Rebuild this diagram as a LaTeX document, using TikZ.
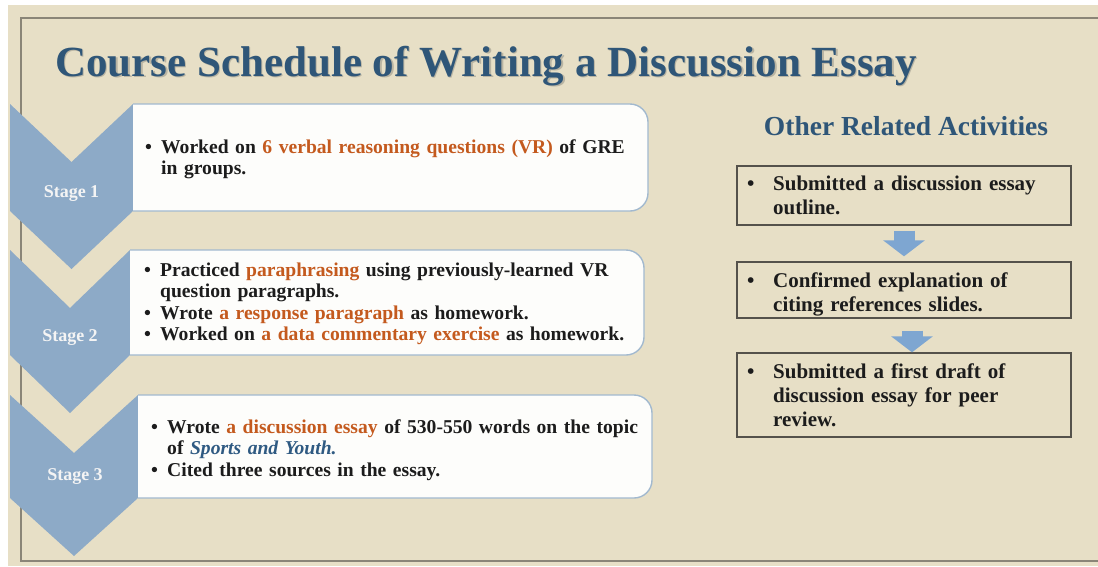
\documentclass[tikz,border=0pt]{standalone}
\usepackage{fontspec}
\setmainfont{Liberation Serif}
\usetikzlibrary{arrows.meta,calc}
\pgfdeclarelayer{bg}\pgfdeclarelayer{chev}\pgfdeclarelayer{boxes}
\pgfsetlayers{bg,chev,boxes,main}
\definecolor{beige}{HTML}{E7DFC6}
\definecolor{framec}{HTML}{8A8577}
\definecolor{chevc}{HTML}{8DAAC7}
\definecolor{boxborder}{HTML}{A2B9CF}
\definecolor{boxfill}{HTML}{FDFDFB}
\definecolor{orng}{HTML}{C45A1E}
\definecolor{titleblue}{HTML}{2F5678}
\definecolor{sportblue}{HTML}{2F5A82}
\definecolor{darktext}{HTML}{1C1C1C}
\definecolor{rborder}{HTML}{55524B}
\definecolor{arrowc}{HTML}{7EA6D1}
\definecolor{stagetext}{HTML}{F4F4F4}
\definecolor{shadowc}{HTML}{8C8A80}
\newcommand\orn[1]{\textcolor{orng}{#1}}
\newcommand\lbul{\makebox[16pt][l]{•}}
\newcommand\lind{\hspace*{16pt}}
\newcommand\rbul{\makebox[26pt][l]{•}}
\newcommand\rind{\hspace*{26pt}}
\newcommand\mychev[5]{%
  \fill[chevc] (#1,#3) -- ({(#1+#2)/2},{#3+#5}) -- (#2,#3) -- (#2,#4)
    -- ({(#1+#2)/2},{#4+#5}) -- (#1,#4) -- cycle;}
\begin{document}
\begin{tikzpicture}[x=1pt,y=-1pt,
  titletxt/.style={anchor=base west,inner sep=0pt,text=titleblue,
    font=\fontsize{43}{50}\selectfont\bfseries},
  subtitle/.style={anchor=base,inner sep=0pt,text=titleblue,
    font=\fontsize{27.5}{32}\selectfont\bfseries},
  lshape/.style={inner sep=0pt,outer sep=0pt},
  ltext/.style={anchor=base west,inner sep=0pt,text width=540pt,align=left,
    text=darktext,font=\fontsize{19.6}{21.5}\selectfont\bfseries},
  lbox/.style={fill=boxfill,draw=boxborder,line width=1.4pt,rounded corners=18pt},
  rbox/.style={draw=rborder,line width=1.4pt,inner sep=0pt,minimum width=334pt},
  rtext/.style={anchor=base west,inner sep=0pt,text width=330pt,align=left,
    text=darktext,font=\fontsize{21}{24.2}\selectfont\bfseries},
  stagetxt/.style={text=stagetext,inner sep=0pt,
    font=\fontsize{18}{20}\selectfont\bfseries},
  blockarr/.style={draw=arrowc,line width=21pt,
    -{Triangle[width=41pt,length=16pt]}},
]
\useasboundingbox (0,0) rectangle (1098,566);
\begin{pgfonlayer}{bg}
  \fill[white] (0,0) rectangle (1098,566);
  \fill[beige] (8,5) rectangle (1098,566);
  \draw[framec,line width=2.2pt] (1098,18) -- (21,18) -- (21,561) -- (1098,561);
\end{pgfonlayer}
\begin{pgfonlayer}{chev}
  \mychev{10}{133}{104}{211}{58}
  \mychev{10}{130}{250}{355}{58}
  \mychev{10}{138}{395}{498}{58}
\end{pgfonlayer}

% title
\node[titletxt,text=shadowc,opacity=.5] (tsh) at (56.5,77.5)
  {Course Schedule of Writing a Discussion Essay};
\node[titletxt] (title) at (55,76)
  {Course Schedule of Writing a Discussion Essay};

% stage labels
\node[stagetxt] (s1) at (71.5,194) {Stage 1};
\node[stagetxt] (s2) at (70,338) {Stage 2};
\node[stagetxt] (s3) at (75,477) {Stage 3};

% left boxes
\node[lshape,minimum width=515pt,minimum height=107pt] (b1) at (390.5,157.5) {};
\node[lshape,minimum width=514pt,minimum height=105pt] (b2) at (387,302.5) {};
\node[lshape,minimum width=514pt,minimum height=103pt] (b3) at (395,446.5) {};
\begin{pgfonlayer}{boxes}
  \filldraw[lbox] (b1.north west) -- (b1.north east) -- (b1.south east) -- (b1.south west);
  \filldraw[lbox] (b2.north west) -- (b2.north east) -- (b2.south east) -- (b2.south west);
  \filldraw[lbox] (b3.north west) -- (b3.north east) -- (b3.south east) -- (b3.south west);
\end{pgfonlayer}
\node[ltext] (b1t) at (145,153)
  {\lbul Worked on \orn{6 verbal reasoning questions (VR)} of GRE\\
   \lind in groups.};
\node[ltext] (b2t) at (144,276)
  {\lbul Practiced \orn{paraphrasing} using previously-learned VR\\
   \lind question paragraphs.\\
   \lbul Wrote \orn{a response paragraph} as homework.\\
   \lbul Worked on \orn{a data commentary exercise} as homework.};
\node[ltext] (b3t) at (151,433)
  {\lbul Wrote \orn{a discussion essay} of 530-550 words on the topic\\
   \lind of \textcolor{sportblue}{\itshape Sports and Youth.}\\
   \lbul Cited three sources in the essay.};

% right column
\node[subtitle] (other) at (906,135) {Other Related Activities};
\node[rbox,minimum height=59pt] (r1) at (904,195.5) {};
\node[rbox,minimum height=56pt] (r2) at (904,290) {};
\node[rbox,minimum height=84pt] (r3) at (904,395) {};
\node[rtext] (r1t) at (747,190)
  {\rbul Submitted a discussion essay\\ \rind outline.};
\node[rtext] (r2t) at (747,287)
  {\rbul Confirmed explanation of\\ \rind citing references slides.};
\node[rtext] (r3t) at (747,378)
  {\rbul Submitted a first draft of\\ \rind discussion essay for peer\\ \rind review.};
\draw[blockarr] ($(r1.south)+(0,5)$) -- ($(r2.north)+(0,-5)$);
\draw[blockarr] ($(r2.south)+(8,12)$) -- ($(r3.north)+(8,0)$);
\end{tikzpicture}
\end{document}
